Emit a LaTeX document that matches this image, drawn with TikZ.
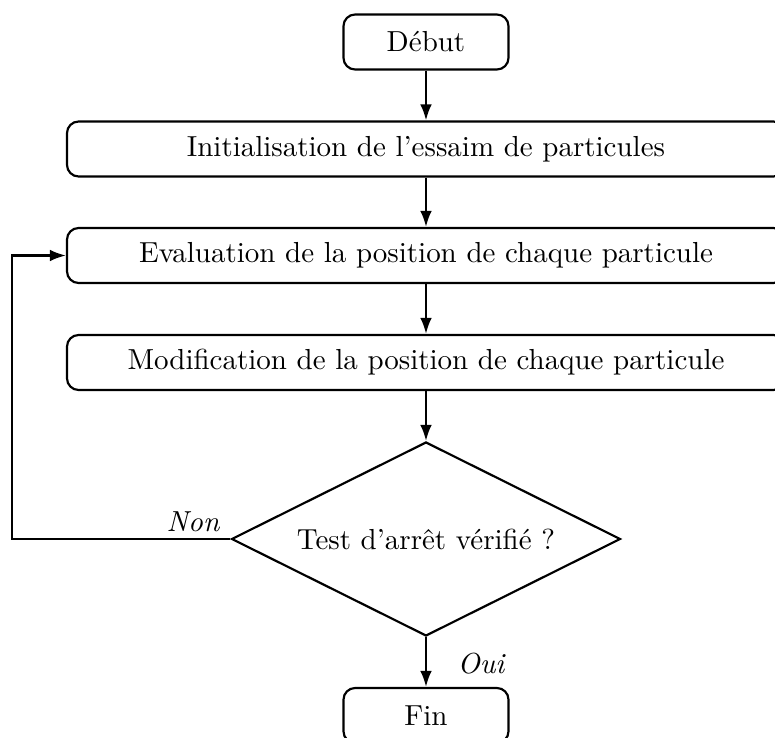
\documentclass[tikz,border=0pt]{standalone}
\usetikzlibrary{shapes.geometric,arrows.meta}
\begin{document}
\begin{tikzpicture}[
  x=0.345pt, y=-0.345pt,
  line width=0.75pt,
  >={Latex[length=5.5pt,width=4pt]},
  stepbox/.style={draw, rounded corners=4pt, minimum width=718*0.345pt,
    minimum height=55*0.345pt, inner sep=0pt},
  endbox/.style={draw, rounded corners=4pt, minimum width=165*0.345pt,
    minimum height=55*0.345pt, inner sep=0pt},
  testbox/.style={draw, diamond, aspect=2, minimum width=389*0.345pt,
    minimum height=194*0.345pt, inner sep=0pt},
  flow/.style={->},
  tag/.style={font=\itshape}
]
\useasboundingbox (0,0) rectangle (775,738);
\clip (0,0) rectangle (775,738);

\node[endbox] (debut) at (426,42) {Début};
\node[stepbox] (init) at (426,149) {Initialisation de l'essaim de particules};
\node[stepbox] (eval) at (426,255.5) {Evaluation de la position de chaque particule};
\node[stepbox] (modif) at (426,362.5) {Modification de la position de chaque particule};
\node[testbox] (test) at (426,539) {Test d'arrêt vérifié ?};
\node[endbox] (fin) at (426,715.5) {Fin};

\coordinate (loop) at (12,539);

\draw[flow] (debut) -- (init);
\draw[flow] (init) -- (eval);
\draw[flow] (eval) -- (modif);
\draw[flow] (modif) -- (test);
\draw[flow] (test) -- (fin);
\draw[flow] (test.west) -- (loop) |- (eval.west);

\node[tag] (non) at (193,522) {Non};
\node[tag] (oui) at (481,664) {Oui};
\end{tikzpicture}
\end{document}
